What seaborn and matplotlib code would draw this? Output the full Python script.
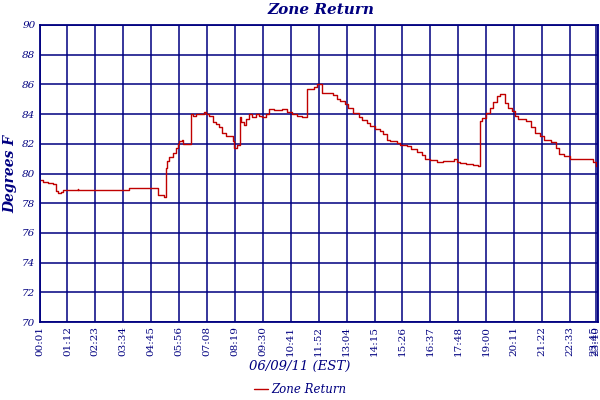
import matplotlib
matplotlib.use("Agg")
import matplotlib.pyplot as plt
import numpy as np
import pandas as pd
import seaborn as sns

# readings (time of day, degrees F)
times = [
    "00:01", "00:09", "00:22", "00:35", "00:42", "00:48", "00:55", "01:00",
    "01:38", "01:40", "03:50", "05:04", "05:19", "05:23", "05:26", "05:32",
    "05:40", "05:49", "05:54", "05:57", "06:04", "06:07", "06:14", "06:27",
    "06:28", "06:33", "06:39", "07:01", "07:05", "07:13", "07:22", "07:30",
    "07:39", "07:47", "07:56", "08:00", "08:13", "08:17", "08:25", "08:31",
    "08:35", "08:42", "08:48", "08:55", "09:03", "09:12", "09:20", "09:29",
    "09:37", "09:46", "09:58", "10:20", "10:32", "10:45", "10:58", "11:11",
    "11:22", "11:25", "11:40", "11:48", "11:55", "12:00", "12:26", "12:30",
    "12:39", "12:47", "13:00", "13:08", "13:21", "13:34", "13:42", "13:55",
    "14:03", "14:16", "14:29", "14:37", "14:46", "14:54", "15:11", "15:20",
    "15:37", "15:49", "16:02", "16:15", "16:23", "16:36", "16:53", "17:10",
    "17:27", "17:37", "17:44", "17:52", "18:09", "18:26", "18:39", "18:43",
    "18:50", "18:58", "19:09", "19:17", "19:27", "19:34", "19:44", "19:47",
    "19:55", "20:04", "20:12", "20:21", "20:33", "20:42", "20:54", "21:03",
    "21:16", "21:28", "21:45", "21:58", "22:06", "22:19", "22:32", "23:27",
    "23:31", "23:40", "23:46",
]
zone_return = [
    79.56, 79.42, 79.36, 79.30, 78.80, 78.70, 78.75, 78.87,
    78.95, 78.87, 79.03, 78.56, 78.45, 80.40, 80.86, 81.10,
    81.40, 81.75, 81.98, 82.20, 82.25, 82.00, 82.00, 82.40,
    84.00, 83.90, 84.00, 84.17, 84.00, 83.90, 83.50, 83.30,
    83.10, 82.76, 82.50, 82.50, 82.20, 81.75, 81.90, 83.80,
    83.50, 83.25, 83.65, 84.00, 83.80, 84.00, 83.90, 83.80,
    84.03, 84.37, 84.30, 84.37, 84.17, 84.00, 83.90, 83.82,
    85.66, 85.70, 85.85, 86.00, 86.04, 85.44, 85.40, 85.26,
    85.04, 84.90, 84.66, 84.44, 84.10, 83.83, 83.60, 83.40,
    83.20, 83.00, 82.87, 82.65, 82.27, 82.20, 82.04, 81.90,
    81.82, 81.64, 81.46, 81.24, 81.00, 80.90, 80.80, 80.86,
    80.86, 80.97, 80.80, 80.70, 80.64, 80.57, 80.53, 83.54,
    83.77, 84.10, 84.44, 84.82, 85.20, 85.37, 85.37, 84.77,
    84.44, 84.20, 83.88, 83.70, 83.70, 83.54, 83.10, 82.76,
    82.54, 82.27, 82.10, 81.75, 81.30, 81.15, 81.00, 81.00,
    80.80, 80.53, 80.53,
]
tick_labels = [
    "00:01", "01:12", "02:23", "03:34", "04:45", "05:56", "07:08", "08:19",
    "09:30", "10:41", "11:52", "13:04", "14:15", "15:26", "16:37", "17:48",
    "19:00", "20:11", "21:22", "22:33", "23:40", "23:45",
]
y_ticks = list(range(70, 91, 2))

NAVY = "#000080"
LINE_RED = "#C00000"


def to_minutes(hhmm):
    h, m = hhmm.split(":")
    return int(h) * 60 + int(m)


df = pd.DataFrame({"minute": [to_minutes(t) for t in times],
                   "Zone Return": zone_return})
tick_pos = [to_minutes(t) for t in tick_labels]

sns.set_theme(style="white")
plt.rcParams["font.family"] = ["DejaVu Serif"]

fig = plt.figure(figsize=(6, 4), dpi=100)
ax = fig.add_axes([0.066, 0.195, 0.931, 0.7425])

sns.lineplot(data=df, x="minute", y="Zone Return", ax=ax, color=LINE_RED,
             linewidth=1.0, drawstyle="steps-post", label="Zone Return",
             legend=False)

ax.set_xlim(tick_pos[0], tick_pos[-1])
ax.set_ylim(70, 90)
ax.set_xticks(tick_pos)
ax.set_xticklabels(tick_labels, rotation=90, fontsize=7.5, color=NAVY)
# last two labels crowd together at the right edge, as in the original
xt = ax.get_xticklabels()
xt[-1].set_ha("right")
xt[-2].set_ha("center")
ax.set_yticks(y_ticks)
ax.set_yticklabels([str(v) for v in y_ticks], fontsize=7.5, color=NAVY,
                   style="italic")
ax.tick_params(length=0, pad=3)
ax.grid(True, color=NAVY, linewidth=1.1)
for spine in ax.spines.values():
    spine.set_color(NAVY)
    spine.set_linewidth(1.3)
ax.set_xlabel("")
ax.set_ylabel("")

fig.text(0.535, 0.975, "Zone Return", ha="center", va="center", fontsize=11,
         fontweight="bold", style="italic", color=NAVY)
fig.text(0.018, 0.566, "Degrees F", ha="center", va="center", rotation=90,
         fontsize=10, fontweight="bold", style="italic", color=NAVY)
fig.text(0.5, 0.083, "06/09/11 (EST)", ha="center", va="center", fontsize=9.5,
         style="italic", color=NAVY)

handles, labels = ax.get_legend_handles_labels()
leg = fig.legend(handles, labels, loc="center", bbox_to_anchor=(0.5, 0.027),
                 frameon=False, handlelength=1.2, handletextpad=0.3,
                 prop={"size": 8.5, "style": "italic"})
for txt in leg.get_texts():
    txt.set_color(NAVY)

fig.savefig("out.png", dpi=100)
